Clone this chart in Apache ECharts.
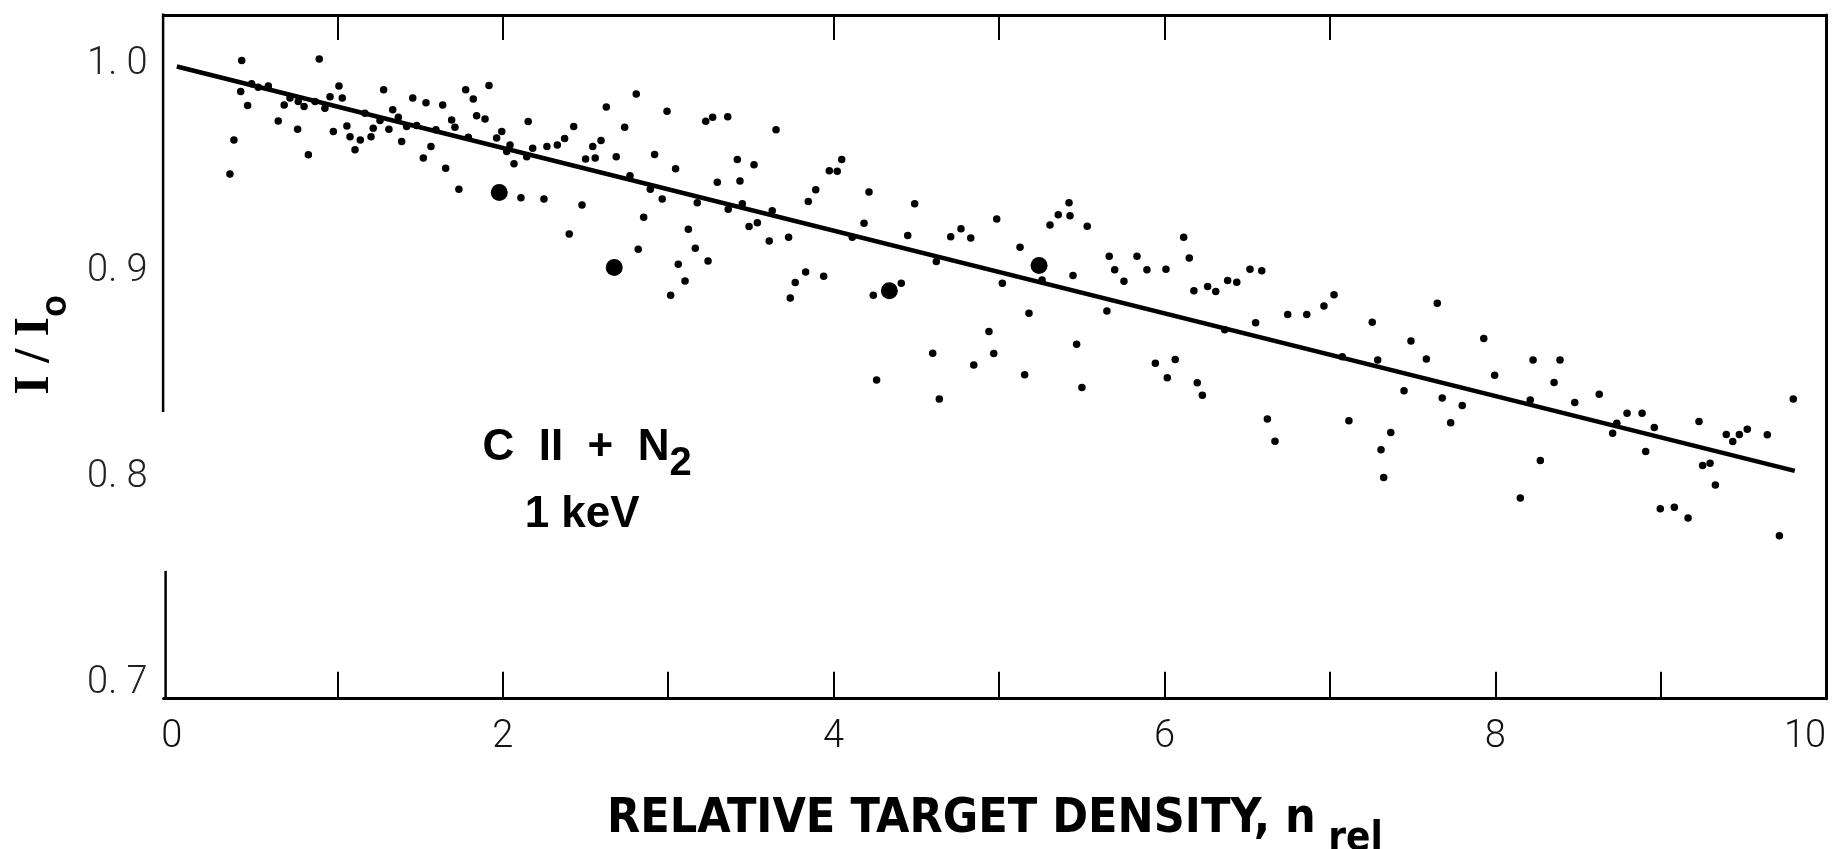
<!DOCTYPE html>
<html>
<head>
<meta charset="utf-8">
<script src="https://cdn.jsdelivr.net/npm/echarts@6/dist/echarts.min.js"></script>
<style>
  html, body { margin: 0; padding: 0; background: #fff; }
  #chart { width: 1833px; height: 849px; }
</style>
</head>
<body>
<div id="chart"></div>
<script>
// Transmission I/I0 of C II through N2 versus relative target density (1 keV)
const densityX = [
  0.351, 0.375, 0.416, 0.422, 0.458, 0.482, 0.522, 0.583, 0.643, 0.679,
  0.714, 0.760, 0.764, 0.799, 0.825, 0.865, 0.891, 0.925, 0.956, 0.976,
  1.010, 1.030, 1.058, 1.077, 1.107, 1.139, 1.167, 1.204, 1.217, 1.258,
  1.280, 1.312, 1.335, 1.369, 1.389, 1.419, 1.456, 1.480, 1.520, 1.536,
  1.566, 1.596, 1.637, 1.655, 1.691, 1.711, 1.735, 1.776, 1.792, 1.822,
  1.842, 1.893, 1.917, 1.963, 1.994, 2.024, 2.044, 2.068, 2.110, 2.145,
  2.154, 2.181, 2.249, 2.267, 2.330, 2.374, 2.402, 2.429, 2.479, 2.501,
  2.544, 2.559, 2.594, 2.626, 2.686, 2.737, 2.769, 2.807, 2.819, 2.852,
  2.892, 2.918, 2.964, 2.993, 3.015, 3.045, 3.061, 3.102, 3.122, 3.164,
  3.176, 3.227, 3.241, 3.269, 3.297, 3.360, 3.363, 3.418, 3.434, 3.448,
  3.489, 3.519, 3.539, 3.611, 3.629, 3.652, 3.728, 3.738, 3.768, 3.831,
  3.847, 3.892, 3.940, 3.974, 4.022, 4.049, 4.113, 4.184, 4.214, 4.240,
  4.260, 4.409, 4.448, 4.490, 4.599, 4.621, 4.639, 4.708, 4.770, 4.829,
  4.847, 4.939, 4.968, 4.986, 5.020, 5.127, 5.155, 5.181, 5.260, 5.308,
  5.358, 5.423, 5.429, 5.447, 5.469, 5.501, 5.533, 5.652, 5.666, 5.699,
  5.755, 5.834, 5.894, 5.945, 6.009, 6.017, 6.065, 6.116, 6.150, 6.178,
  6.198, 6.229, 6.261, 6.310, 6.364, 6.382, 6.437, 6.517, 6.551, 6.588,
  6.622, 6.668, 6.745, 6.860, 6.964, 7.025, 7.075, 7.115, 7.256, 7.289,
  7.309, 7.325, 7.368, 7.448, 7.490, 7.583, 7.649, 7.679, 7.730, 7.800,
  7.930, 7.996, 8.151, 8.211, 8.228, 8.272, 8.355, 8.391, 8.480, 8.628,
  8.709, 8.734, 8.796, 8.887, 8.909, 8.961, 8.997, 9.082, 9.165, 9.231,
  9.253, 9.298, 9.330, 9.396, 9.435, 9.475, 9.523, 9.644, 9.717, 9.801
];
const ratioY = [
  0.9471, 0.9636, 0.9871, 1.0021, 0.9803, 0.9908, 0.9892, 0.9898, 0.9728, 0.9806,
  0.9839, 0.9688, 0.9822, 0.9798, 0.9564, 0.9822, 1.0028, 0.9790, 0.9846, 0.9677,
  0.9898, 0.9839, 0.9704, 0.9652, 0.9588, 0.9636, 0.9766, 0.9652, 0.9693, 0.9730,
  0.9879, 0.9688, 0.9782, 0.9746, 0.9628, 0.9701, 0.9839, 0.9706, 0.9548, 0.9817,
  0.9604, 0.9685, 0.9806, 0.9499, 0.9733, 0.9698, 0.9397, 0.9879, 0.9649, 0.9834,
  0.9753, 0.9737, 0.9900, 0.9645, 0.9677, 0.9580, 0.9612, 0.9520, 0.9356, 0.9555,
  0.9725, 0.9596, 0.9349, 0.9604, 0.9611, 0.9643, 0.9180, 0.9701, 0.9321, 0.9543,
  0.9604, 0.9548, 0.9633, 0.9796, 0.9554, 0.9698, 0.9462, 0.9859, 0.9106, 0.9261,
  0.9397, 0.9565, 0.9349, 0.9775, 0.8883, 0.9496, 0.9033, 0.8952, 0.9203, 0.9111,
  0.9332, 0.9727, 0.9049, 0.9746, 0.9431, 0.9748, 0.9300, 0.9541, 0.9437, 0.9326,
  0.9216, 0.9516, 0.9235, 0.9146, 0.9292, 0.9685, 0.9164, 0.8869, 0.8944, 0.8996,
  0.9337, 0.9394, 0.8975, 0.9487, 0.9484, 0.9541, 0.9164, 0.9232, 0.9384, 0.8883,
  0.8472, 0.8941, 0.9172, 0.9326, 0.8602, 0.9046, 0.8380, 0.9167, 0.9205, 0.9161,
  0.8544, 0.8707, 0.8600, 0.9252, 0.8941, 0.9116, 0.8497, 0.8796, 0.8957, 0.9224,
  0.9273, 0.9332, 0.9268, 0.8978, 0.8645, 0.8435, 0.9218, 0.8806, 0.9072, 0.9006,
  0.8951, 0.9072, 0.9007, 0.8553, 0.9009, 0.8483, 0.8571, 0.9164, 0.9063, 0.8904,
  0.8458, 0.8398, 0.8925, 0.8901, 0.8715, 0.8954, 0.8946, 0.9009, 0.8749, 0.9001,
  0.8282, 0.8175, 0.8789, 0.8789, 0.8831, 0.8885, 0.8585, 0.8274, 0.8752, 0.8569,
  0.8133, 0.7999, 0.8217, 0.8419, 0.8661, 0.8573, 0.8844, 0.8385, 0.8264, 0.8348,
  0.8673, 0.8495, 0.7899, 0.8375, 0.8569, 0.8081, 0.8459, 0.8569, 0.8362, 0.8403,
  0.8214, 0.8262, 0.8311, 0.8311, 0.8125, 0.8241, 0.7847, 0.7855, 0.7803, 0.8270,
  0.8057, 0.8068, 0.7962, 0.8207, 0.8173, 0.8207, 0.8233, 0.8206, 0.7716, 0.8380
];
// highlighted measurements (large dots)
const markedX = [1.979, 2.674, 4.337, 5.242];
const markedY = [0.9381, 0.9017, 0.8905, 0.9027];
// straight-line fit through the data
const fitX = [0.03, 9.81];
const fitY = [0.9992, 0.8031];

const xLabelValues = [0, 2, 4, 6, 8, 10];
const xTickValues = [1, 2, 3, 4, 5, 6, 7, 8, 9];
const topTickValues = [1, 2, 4, 5, 6, 7];
const yLabelValues = [0.7, 0.8, 0.9, 1.0];
// the left frame line is interrupted between these two levels
const leftAxisGap = [0.8317, 0.7546];

const X_MIN = -0.05, X_MAX = 10;
const Y_MIN = 0.6926, Y_MAX = 1.0242;

const zip = (xs, ys) => xs.map((x, i) => [x, ys[i]]);

const narrow = "'Liberation Sans Narrow', 'DejaVu Sans Condensed', 'Liberation Sans', sans-serif";
const light = "Roboto, 'Open Sans', sans-serif";

const chart = echarts.init(document.getElementById('chart'), null, { renderer: 'canvas' });

const frameLine = { show: true, onZero: false, lineStyle: { color: '#000', width: 3 } };

chart.setOption({
  animation: false,
  backgroundColor: '#fff',
  grid: { left: 163.6, right: 6.8, top: 15, bottom: 150.3, containLabel: false, outerBoundsMode: 'none' },
  xAxis: [
    {
      type: 'value', position: 'bottom', min: X_MIN, max: X_MAX,
      splitLine: { show: false },
      axisLine: frameLine,
      axisTick: { show: true, inside: true, length: 27, customValues: xTickValues, lineStyle: { color: '#000', width: 2 } },
      axisLabel: {
        customValues: xLabelValues, margin: 20, color: '#111',
        fontFamily: light, fontWeight: 300, fontSize: 38, alignMaxLabel: 'right',
        formatter: v => String(Math.round(v))
      },
      name: '{m|RELATIVE TARGET DENSITY, n}{s| rel}',
      nameLocation: 'middle', nameGap: 97,
      nameTextStyle: {
        rich: {
          m: { fontFamily: narrow, fontWeight: 'bold', fontSize: 48, color: '#000', verticalAlign: 'top', lineHeight: 64 },
          s: { fontFamily: narrow, fontWeight: 'bold', fontSize: 40, color: '#000', verticalAlign: 'bottom', lineHeight: 40 }
        }
      }
    },
    {
      type: 'value', position: 'top', min: X_MIN, max: X_MAX,
      splitLine: { show: false },
      axisLine: frameLine,
      axisTick: { show: true, inside: true, length: 25, customValues: topTickValues, lineStyle: { color: '#000', width: 2 } },
      axisLabel: { show: false }
    }
  ],
  yAxis: [
    {
      type: 'value', position: 'left', min: Y_MIN, max: Y_MAX,
      splitLine: { show: false },
      axisLine: { show: false, onZero: false },
      axisTick: { show: false },
      axisLabel: {
        customValues: yLabelValues, margin: 16, color: '#222',
        fontFamily: light, fontWeight: 300, fontSize: 38,
        formatter: v => v.toFixed(1).replace('.', '. ')
      },
      name: '{m|I / I}{s|o}',
      nameLocation: 'middle', nameRotate: 90, nameGap: 90,
      nameTextStyle: {
        padding: [0, 0, 0, 24],
        rich: {
          m: { fontFamily: "'Liberation Serif', serif", fontWeight: 'bold', fontSize: 50, color: '#000', verticalAlign: 'top', lineHeight: 64 },
          s: { fontFamily: "'Liberation Sans', sans-serif", fontWeight: 'bold', fontSize: 36, color: '#000', verticalAlign: 'bottom', lineHeight: 38 }
        }
      }
    },
    {
      type: 'value', position: 'right', min: Y_MIN, max: Y_MAX,
      splitLine: { show: false },
      axisLine: frameLine,
      axisTick: { show: false },
      axisLabel: { show: false }
    }
  ],
  series: [
    {
      name: 'fit', type: 'line', xAxisIndex: 0, yAxisIndex: 0,
      data: zip(fitX, fitY), symbol: 'none',
      lineStyle: { color: '#000', width: 4.5 }, silent: true, z: 2
    },
    {
      name: 'data', type: 'scatter', xAxisIndex: 0, yAxisIndex: 0,
      data: zip(densityX, ratioY), symbol: 'circle', symbolSize: 7.5,
      itemStyle: { color: '#000', opacity: 1 }, z: 3
    },
    {
      name: 'marked', type: 'scatter', xAxisIndex: 0, yAxisIndex: 0,
      data: zip(markedX, markedY), symbol: 'circle', symbolSize: 17,
      itemStyle: { color: '#000', opacity: 1 }, z: 3
    }
  ]
});

// broken left frame line and the in-plot annotation
function drawOverlay() {
  const px = v => chart.convertToPixel({ xAxisIndex: 0 }, v);
  const py = v => chart.convertToPixel({ yAxisIndex: 0 }, v);
  const xl = px(X_MIN);
  const sans = "'Liberation Sans', Arial, sans-serif";
  chart.setOption({
    graphic: [
      { type: 'line', shape: { x1: xl - 0.5, y1: py(Y_MAX) - 1.5, x2: xl - 0.5, y2: py(leftAxisGap[0]) }, style: { stroke: '#000', lineWidth: 2.5 } },
      { type: 'line', shape: { x1: xl + 2, y1: py(leftAxisGap[1]), x2: xl + 2, y2: py(Y_MIN) }, style: { stroke: '#000', lineWidth: 2.5 } },
      {
        type: 'text', x: px(2.51), y: py(0.8133) + 5,
        style: {
          text: '{m|C  II  +  N}{s|2}', align: 'center', verticalAlign: 'middle',
          rich: {
            m: { fontFamily: sans, fontWeight: 'bold', fontSize: 44, fill: '#000', verticalAlign: 'top', lineHeight: 58 },
            s: { fontFamily: sans, fontWeight: 'bold', fontSize: 40, fill: '#000', verticalAlign: 'bottom', lineHeight: 40 }
          }
        }
      },
      {
        type: 'text', x: px(2.48), y: py(0.7818),
        style: { text: '1 keV', align: 'center', verticalAlign: 'middle', font: "bold 44px 'Liberation Sans', Arial, sans-serif", fill: '#000' }
      }
    ]
  });
}
drawOverlay();
</script>
</body>
</html>
